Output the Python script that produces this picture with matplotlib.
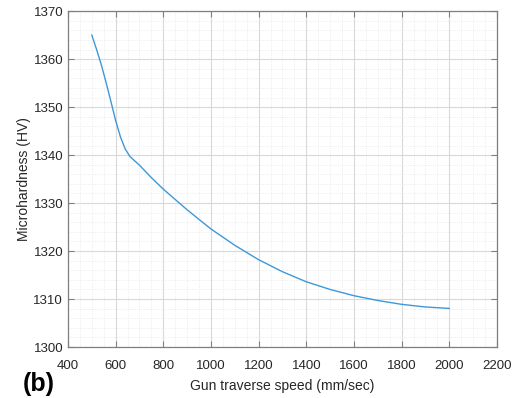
import matplotlib.pyplot as plt
from matplotlib.ticker import AutoMinorLocator
import numpy as np

speed = [500, 520, 540, 560, 580, 600, 620, 640, 660, 700, 750, 800, 900,
         1000, 1100, 1200, 1300, 1400, 1500, 1600, 1700, 1800, 1900, 2000]
hardness = [1365.0, 1362.0, 1358.8, 1355.1, 1351.2, 1347.2, 1343.8, 1341.3,
            1339.7, 1337.9, 1335.3, 1332.9, 1328.6, 1324.6, 1321.2, 1318.2,
            1315.7, 1313.6, 1312.0, 1310.7, 1309.7, 1308.9, 1308.35, 1308.05]

plt.rcParams['font.family'] = ['Liberation Sans', 'DejaVu Sans']

fig = plt.figure(figsize=(5.15, 3.98), dpi=100)
ax = fig.add_axes([0.132, 0.128, 0.833, 0.844])

ax.plot(speed, hardness, color='#3d98da', lw=1.0)

ax.set_xlim(400, 2200)
ax.set_ylim(1300, 1370)
ax.set_xticks(np.arange(400, 2201, 200))
ax.set_yticks(np.arange(1300, 1371, 10))
ax.xaxis.set_minor_locator(AutoMinorLocator(4))
ax.yaxis.set_minor_locator(AutoMinorLocator(5))

ax.grid(which='major', color='#d9d9d9', lw=0.8)
ax.grid(which='minor', color='#e6e6e6', lw=0.6, ls=':')
ax.set_axisbelow(True)

for s in ax.spines.values():
    s.set_color('#7f7f7f')
    s.set_linewidth(0.9)
ax.tick_params(which='major', direction='in', length=4, color='#7f7f7f',
               top=True, right=True, labelsize=9.5, labelcolor='#262626')
ax.tick_params(axis='x', which='major', pad=9)
ax.tick_params(which='minor', length=0)

ax.set_xlabel('Gun traverse speed (mm/sec)', fontsize=10, color='#262626', labelpad=5)
ax.set_ylabel('Microhardness (HV)', fontsize=10, color='#262626', labelpad=2)

fig.text(0.045, 0.004, '(b)', fontsize=18, fontweight='bold', va='bottom', ha='left')

fig.savefig('out.png', dpi=100)
